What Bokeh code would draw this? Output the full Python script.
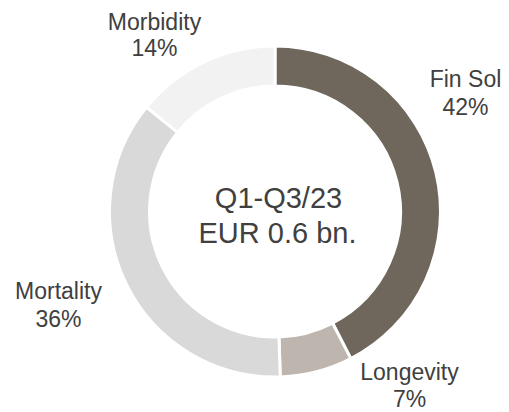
import math
from bokeh.plotting import figure
from bokeh.models import Range1d, ColumnDataSource
from bokeh.core.properties import value
from bokeh.embed import file_html
from bokeh.resources import INLINE

# data
categories = ["Fin Sol", "Longevity", "Mortality", "Morbidity"]
shares = [42, 7, 36, 14]
colors = ["#6F675C", "#BDB5AE", "#D9D9D9", "#F2F2F2"]
center_lines = ["Q1-Q3/23", "EUR 0.6 bn."]

# layout constants (picture pixel coordinates)
W, H = 509, 412
CX, CY = 274.5, 211
R_OUT, R_IN = 165.5, 125.5
label_x = [465, 409, 58, 154]
label_anchor_y = [78, 371, 290, 21]
label_gap = [28, 27, 28, 26]
TEXT_COLOR = "#404040"
FONT = value("Liberation Sans")


def ty(img_y):
    return H - img_y


total = float(sum(shares))
starts, ends = [], []
acc = 0.0
for s in shares:
    a0 = math.pi / 2 - acc / total * 2 * math.pi
    acc += s
    a1 = math.pi / 2 - acc / total * 2 * math.pi
    starts.append(a0)
    ends.append(a1)

p = figure(width=W, height=H, output_backend="svg", toolbar_location=None,
           x_range=Range1d(0, W), y_range=Range1d(0, H),
           min_border=0, outline_line_color=None)
p.axis.visible = False
p.grid.visible = False
p.background_fill_color = "white"
p.border_fill_color = "white"

src = ColumnDataSource(dict(
    x=[CX] * len(shares), y=[ty(CY)] * len(shares),
    start=starts, end=ends, color=colors,
))
p.annular_wedge(x="x", y="y", inner_radius=R_IN, outer_radius=R_OUT,
                start_angle="start", end_angle="end", direction="clock",
                fill_color="color", line_color="white", line_width=3,
                source=src)

lab = ColumnDataSource(dict(
    x=label_x,
    y1=[ty(b) for b in label_anchor_y],
    y2=[ty(b + g) for b, g in zip(label_anchor_y, label_gap)],
    name=categories,
    pct=[f"{s}%" for s in shares],
))
p.text(x="x", y="y1", text="name", source=lab, text_align="center",
       text_baseline="alphabetic", text_font=FONT, text_font_size="23px",
       text_color=TEXT_COLOR)
p.text(x="x", y="y2", text="pct", source=lab, text_align="center",
       text_baseline="alphabetic", text_font=FONT, text_font_size="23px",
       text_color=TEXT_COLOR)

p.text(x=[278, 277], y=[ty(197), ty(232)], text=center_lines,
       text_align="center", text_baseline="alphabetic", text_font=FONT,
       text_font_size="29px", text_color=TEXT_COLOR)

open("out.html", "w").write(file_html(p, INLINE))
